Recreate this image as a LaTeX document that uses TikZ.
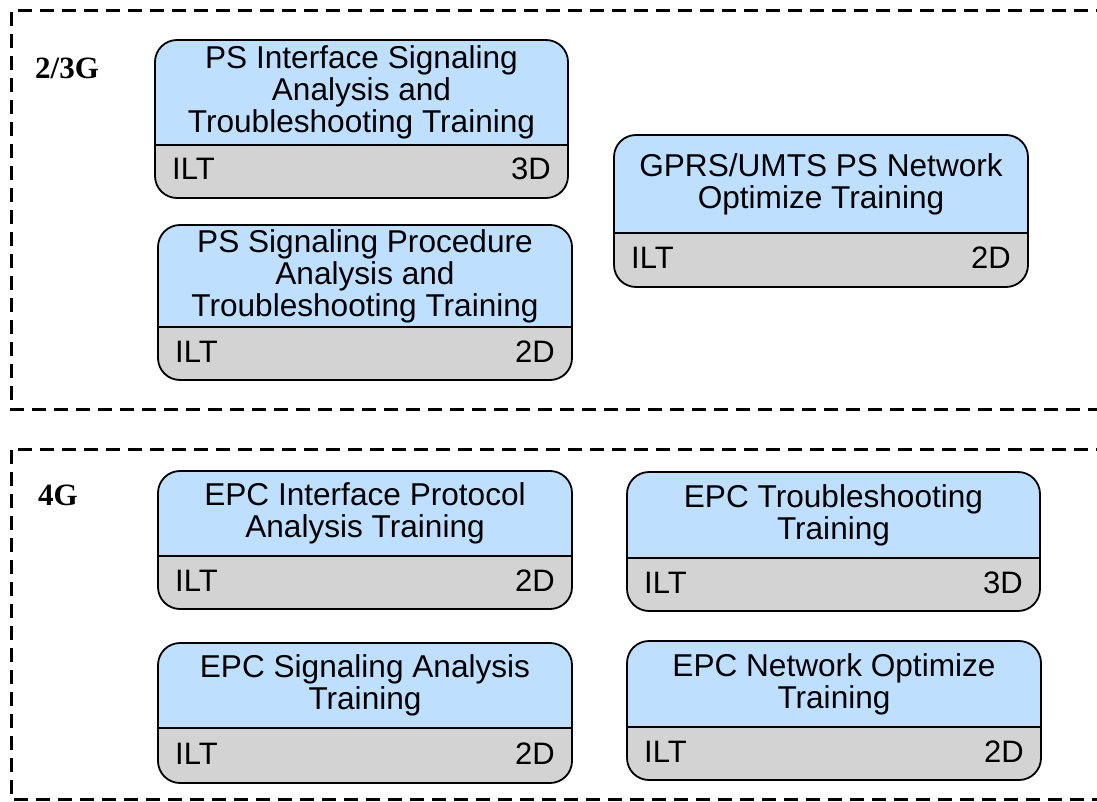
\documentclass[tikz,border=0pt]{standalone}
\usepackage{fontspec}
\setmainfont{Liberation Sans}
\newfontfamily\labelfont{Liberation Serif}

\definecolor{titlefill}{RGB}{191,223,255}
\definecolor{footfill}{RGB}{211,211,211}

\tikzset{
  group/.style={draw=black, line width=3pt, dash pattern=on 14pt off 8pt},
  frame/.style={draw=black, line width=1.8pt, rounded corners=22pt},
  divider/.style={draw=black, line width=1.8pt},
  coursetitle/.style={font=\fontsize{31.6}{32}\selectfont, align=center, inner sep=0pt},
  foot/.style={font=\fontsize{31}{32}\selectfont, inner sep=0pt},
  grouplabel/.style={font=\labelfont\bfseries\fontsize{31}{34}\selectfont, inner sep=0pt, anchor=base west}
}

% \course{name}{left}{top}{right}{bottom}{divider}{title}{duration}
\newcommand\course[8]{%
  \begin{scope}
    \clip[rounded corners=22pt] (#2,#3) rectangle (#4,#5);
    \fill[titlefill] (#2,#3) rectangle (#4,#6);
    \fill[footfill] (#2,#6) rectangle (#4,#5);
  \end{scope}
  \draw[divider] (#2,#6) -- (#4,#6);
  \draw[frame] (#2,#3) rectangle (#4,#5);
  \node[coursetitle] (#1-title) at ({(#2+#4)/2},{(#3+#6)/2}) {#7};
  \node[foot, anchor=base west] (#1-type) at ({#2+17},{(#6+#5)/2+8.5}) {ILT};
  \node[foot, anchor=base east] (#1-days) at ({#4-17},{(#6+#5)/2+8.5}) {#8};
}

\begin{document}
\begin{tikzpicture}[x=1pt, y=-1pt]
  \useasboundingbox (0,0) rectangle (1097,802);

  % technology groups
  \draw[group] (1110,11) -- (11,11) -- (11,409) -- (1110,409);
  \draw[group] (1110,449) -- (11,449) -- (11,799) -- (1110,799);
  \node[grouplabel] (g23) at (35,79) {2/3G};
  \node[grouplabel] (g4) at (38,505) {4G};

  % 2/3G courses
  \course{psif}{155}{40}{568}{198}{145}{PS Interface Signaling\\Analysis and\\Troubleshooting Training}{3D}
  \course{pssp}{158}{225}{572}{380}{327}{PS Signaling Procedure\\Analysis and\\Troubleshooting Training}{2D}
  \course{gprs}{614}{135}{1028}{287}{233}{GPRS/UMTS PS Network\\Optimize Training}{2D}

  % 4G courses
  \course{epcif}{158}{471}{572}{609}{556}{EPC Interface Protocol\\Analysis Training}{2D}
  \course{epcts}{627}{472}{1040}{611}{558}{EPC Troubleshooting\\Training}{3D}
  \course{epcsig}{158}{643}{572}{783}{728}{EPC Signaling Analysis\\Training}{2D}
  \course{epcopt}{627}{641}{1041}{780}{727}{EPC Network Optimize\\Training}{2D}
\end{tikzpicture}
\end{document}
